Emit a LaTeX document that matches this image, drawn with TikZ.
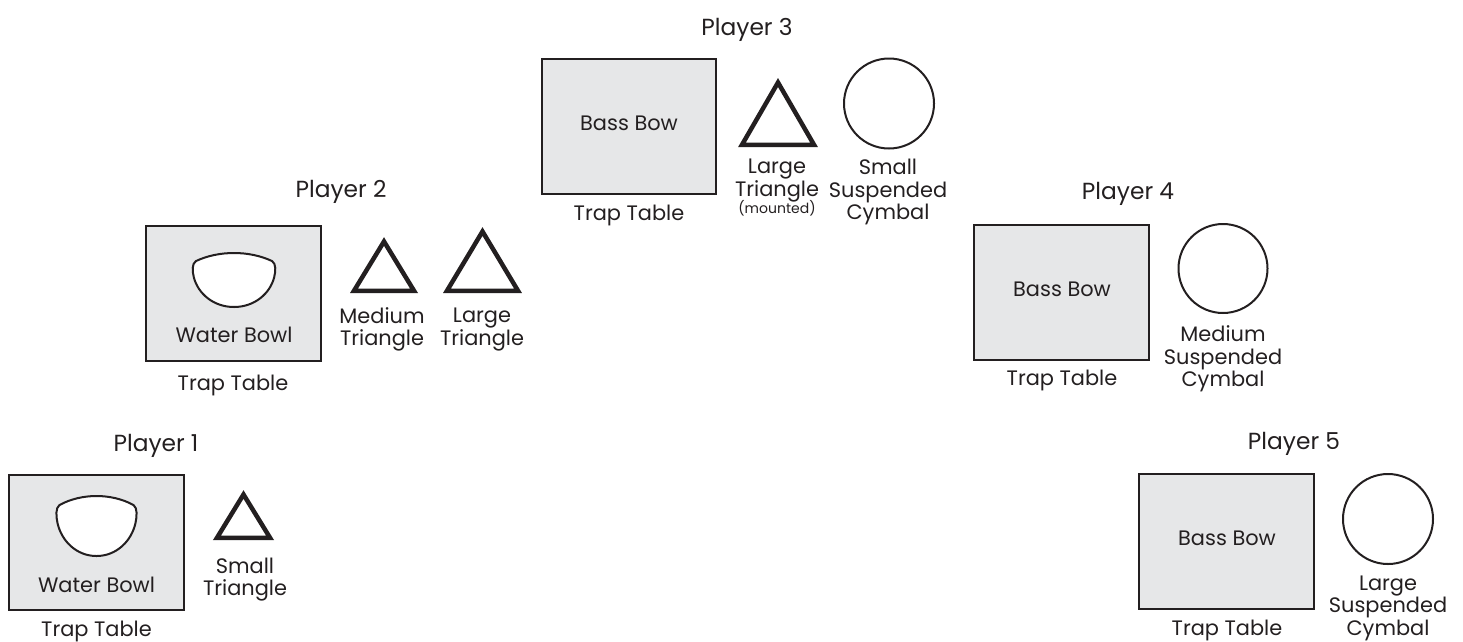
\documentclass[tikz,border=0pt]{standalone}
\usepackage{fontspec}
\setmainfont{Poppins}
\definecolor{ink}{HTML}{231F20}
\definecolor{tablegray}{HTML}{E6E7E8}
\tikzset{
  bowl/.pic={
    \draw[line width=2pt, draw=ink, fill=white]
      (-37,9) .. controls (-15,-3) and (15,-3) .. (37,9)
      .. controls (41,12) and (40.5,20) .. (39,27)
      .. controls (35,45) and (20,60) .. (0,60)
      .. controls (-20,60) and (-35,45) .. (-39,27)
      .. controls (-40.5,20) and (-41,12) .. (-37,9) -- cycle;
  }
}
\begin{document}
\begin{tikzpicture}[x=1pt,y=-1pt,
  every node/.style={text=ink, inner sep=0pt, outer sep=0pt},
  lbl/.style={font=\fontsize{20.9}{22.5}\selectfont, align=center, anchor=base},
  trilbl/.style={font=\fontsize{20.9}{21.5}\selectfont, align=center, anchor=base},
  player/.style={font=\fontsize{23.3}{25}\selectfont, anchor=base},
  tablebox/.style={draw=ink, fill=tablegray, line width=2pt, minimum width=175pt, minimum height=135pt},
  cymbal/.style={draw=ink, circle, line width=2pt, minimum size=90pt},
  tri/.style={draw=ink, line width=4.5pt, line join=miter}
]
\useasboundingbox (0,0) rectangle (1463,641);

% Player 1
\node[player] (p1) at (156,451.7) {Player 1};
\node[tablebox] (t1) at (96.5,542.5) {};
\pic at (96.5,496) {bowl};
\node[lbl] (wb1) at (96.5,592.3) {Water Bowl};
\node[lbl] (tt1) at (96.5,636) {Trap Table};
\draw[tri] (217,537.75) -- (243.5,494.5) -- (270,537.75) -- cycle;
\node[trilbl] (st1) at (245,595) {Small\\Triangle};

% Player 2
\node[player] (p2) at (341,197.3) {Player 2};
\node[tablebox] (t2) at (233.5,293.5) {};
\pic[xscale=1.03, yscale=0.9] at (234,253) {bowl};
\node[lbl] (wb2) at (234,342.3) {Water Bowl};
\node[lbl] (tt2) at (233,390) {Trap Table};
\draw[tri] (354,290.75) -- (384,241.5) -- (414,290.75) -- cycle;
\draw[tri] (447,290.75) -- (482.5,231.5) -- (518,290.75) -- cycle;
\node[trilbl] (mt2) at (382,345) {Medium\\Triangle};
\node[trilbl] (lt2) at (482,345) {Large\\Triangle};

% Player 3
\node[player] (p3) at (747,35) {Player 3};
\node[tablebox, minimum width=174pt] (t3) at (629,126) {};
\node[lbl] (bb3) at (629,130.7) {Bass Bow};
\node[lbl] (tt3) at (629,220) {Trap Table};
\draw[tri] (742,144.75) -- (778,82.5) -- (814,144.75) -- cycle;
\node[trilbl] (lt3) at (777,213) {Large\\Triangle\\[-5pt]{\fontsize{14}{14}\selectfont(mounted)}};
\node[cymbal] (c3) at (889,103.5) {};
\node[lbl] (sc3) at (888,219.5) {Small\\Suspended\\Cymbal};

% Player 4
\node[player] (p4) at (1128,199.3) {Player 4};
\node[tablebox] (t4) at (1061.5,292) {};
\node[lbl] (bb4) at (1062,296) {Bass Bow};
\node[lbl] (tt4) at (1062,385) {Trap Table};
\node[cymbal, minimum size=89pt] (c4) at (1223,268.5) {};
\node[lbl] (mc4) at (1223,386.7) {Medium\\Suspended\\Cymbal};

% Player 5
\node[player] (p5) at (1294,449.3) {Player 5};
\node[tablebox] (t5) at (1226.5,541.5) {};
\node[lbl] (bb5) at (1227,545) {Bass Bow};
\node[lbl] (tt5) at (1227,635) {Trap Table};
\node[cymbal] (c5) at (1388,519) {};
\node[lbl] (lc5) at (1388,635) {Large\\Suspended\\Cymbal};
\end{tikzpicture}
\end{document}
